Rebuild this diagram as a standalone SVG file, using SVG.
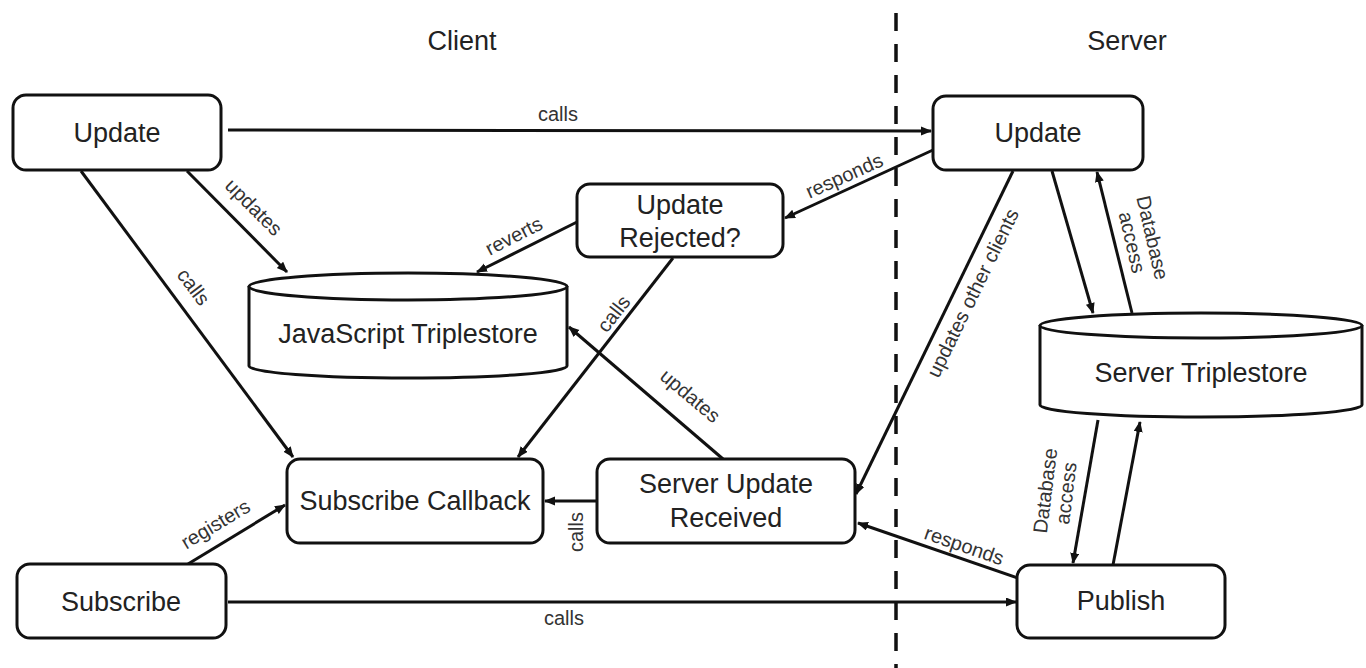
<svg xmlns="http://www.w3.org/2000/svg" width="1366" height="668" viewBox="0 0 1366 668">
  <style>
    .box { fill: #ffffff; stroke: #111111; stroke-width: 3; }
    .edge { fill: none; stroke: #111111; stroke-width: 3; }
    .node-text { font-family: "Liberation Sans", Arial, sans-serif; font-size: 27px; fill: #222222; text-anchor: middle; }
    .title { font-family: "Liberation Sans", Arial, sans-serif; font-size: 27px; fill: #222222; text-anchor: middle; }
    .label { font-family: "Liberation Sans", Arial, sans-serif; font-size: 20px; fill: #333333; text-anchor: middle; }
    .divider { stroke: #111111; stroke-width: 3.5; stroke-dasharray: 18 13; fill: none; }
  </style>
  <defs>
    <marker id="arrow" markerUnits="userSpaceOnUse" markerWidth="12" markerHeight="10" refX="10" refY="4.5" orient="auto">
      <path d="M0,0 L11,4.5 L0,9 Z" fill="#111111"/>
    </marker>
  </defs>

  <rect width="1366" height="668" fill="#ffffff"/>

  <!-- client / server divider -->
  <line class="divider" x1="896" y1="13" x2="896" y2="668"/>
  <text class="title" x="462" y="50">Client</text>
  <text class="title" x="1127" y="50">Server</text>

  <!-- connectors -->
  <g id="connectors">
    <line class="edge" x1="228" y1="130" x2="931" y2="131" marker-end="url(#arrow)"/>
    <text class="label" x="558" y="121">calls</text>

    <line class="edge" x1="187" y1="171" x2="287" y2="272" marker-end="url(#arrow)"/>
    <text class="label" transform="translate(249,212) rotate(45)">updates</text>

    <line class="edge" x1="81" y1="171" x2="293" y2="457" marker-end="url(#arrow)"/>
    <text class="label" transform="translate(188,291) rotate(53)">calls</text>

    <line class="edge" x1="933" y1="150" x2="785" y2="218" marker-end="url(#arrow)"/>
    <text class="label" transform="translate(847,182) rotate(-24)">responds</text>

    <line class="edge" x1="577" y1="222" x2="477" y2="272" marker-end="url(#arrow)"/>
    <text class="label" transform="translate(517,242) rotate(-27)">reverts</text>

    <line class="edge" x1="673" y1="258" x2="518" y2="457" marker-end="url(#arrow)"/>
    <text class="label" transform="translate(619,318) rotate(-52)">calls</text>

    <line class="edge" x1="723" y1="459" x2="569" y2="327" marker-end="url(#arrow)"/>
    <text class="label" transform="translate(686,401) rotate(40)">updates</text>

    <line class="edge" x1="597" y1="501" x2="545" y2="501" marker-end="url(#arrow)"/>
    <text class="label" transform="translate(583,532) rotate(-90)">calls</text>

    <line class="edge" x1="188" y1="564" x2="285" y2="505" marker-end="url(#arrow)"/>
    <text class="label" transform="translate(219,530) rotate(-31)">registers</text>

    <line class="edge" x1="228" y1="602" x2="1016" y2="602" marker-end="url(#arrow)"/>
    <text class="label" x="564" y="625">calls</text>

    <line class="edge" x1="1013" y1="171" x2="856" y2="494" marker-end="url(#arrow)"/>
    <text class="label" transform="translate(979,296) rotate(-64)">updates other clients</text>

    <line class="edge" x1="1018" y1="578" x2="858" y2="523" marker-end="url(#arrow)"/>
    <text class="label" transform="translate(962,552) rotate(19)">responds</text>

    <line class="edge" x1="1052" y1="171" x2="1093" y2="313" marker-end="url(#arrow)"/>
    <line class="edge" x1="1132" y1="313" x2="1097" y2="172" marker-end="url(#arrow)"/>
    <text class="label" transform="translate(1142,240) rotate(77)"><tspan x="0" y="-4">Database</tspan><tspan x="0" y="17">access</tspan></text>

    <line class="edge" x1="1098" y1="420" x2="1073" y2="563" marker-end="url(#arrow)"/>
    <line class="edge" x1="1113" y1="565" x2="1140" y2="422" marker-end="url(#arrow)"/>
    <text class="label" transform="translate(1056,492) rotate(-83)"><tspan x="0" y="-4">Database</tspan><tspan x="0" y="17">access</tspan></text>
  </g>

  <!-- client nodes -->
  <g id="client-update">
    <rect class="box" x="13" y="95" width="208" height="75" rx="13"/>
    <text class="node-text" x="117" y="142">Update</text>
  </g>

  <g id="update-rejected">
    <rect class="box" x="577" y="184" width="206" height="73" rx="13"/>
    <text class="node-text" x="680" y="214">Update</text>
    <text class="node-text" x="680" y="247">Rejected?</text>
  </g>

  <g id="js-triplestore">
    <path class="box" d="M249,286 L249,366 A159,12 0 0,0 567,366 L567,286"/>
    <ellipse class="box" cx="408" cy="286.5" rx="159" ry="13.5"/>
    <text class="node-text" x="408" y="343">JavaScript Triplestore</text>
  </g>

  <g id="subscribe-callback">
    <rect class="box" x="287" y="459" width="256" height="84" rx="13"/>
    <text class="node-text" x="415" y="510">Subscribe Callback</text>
  </g>

  <g id="server-update-received">
    <rect class="box" x="597" y="459" width="258" height="84" rx="13"/>
    <text class="node-text" x="726" y="493">Server Update</text>
    <text class="node-text" x="726" y="527">Received</text>
  </g>

  <g id="subscribe">
    <rect class="box" x="17" y="564" width="209" height="74" rx="13"/>
    <text class="node-text" x="121" y="611">Subscribe</text>
  </g>

  <!-- server nodes -->
  <g id="server-update">
    <rect class="box" x="933" y="96" width="210" height="74" rx="13"/>
    <text class="node-text" x="1038" y="142">Update</text>
  </g>

  <g id="server-triplestore">
    <path class="box" d="M1040,325 L1040,405 A161,12 0 0,0 1362,405 L1362,325"/>
    <ellipse class="box" cx="1201" cy="325.5" rx="161" ry="12.5"/>
    <text class="node-text" x="1201" y="382">Server Triplestore</text>
  </g>

  <g id="publish">
    <rect class="box" x="1017" y="565" width="208" height="73" rx="13"/>
    <text class="node-text" x="1121" y="610">Publish</text>
  </g>
</svg>
